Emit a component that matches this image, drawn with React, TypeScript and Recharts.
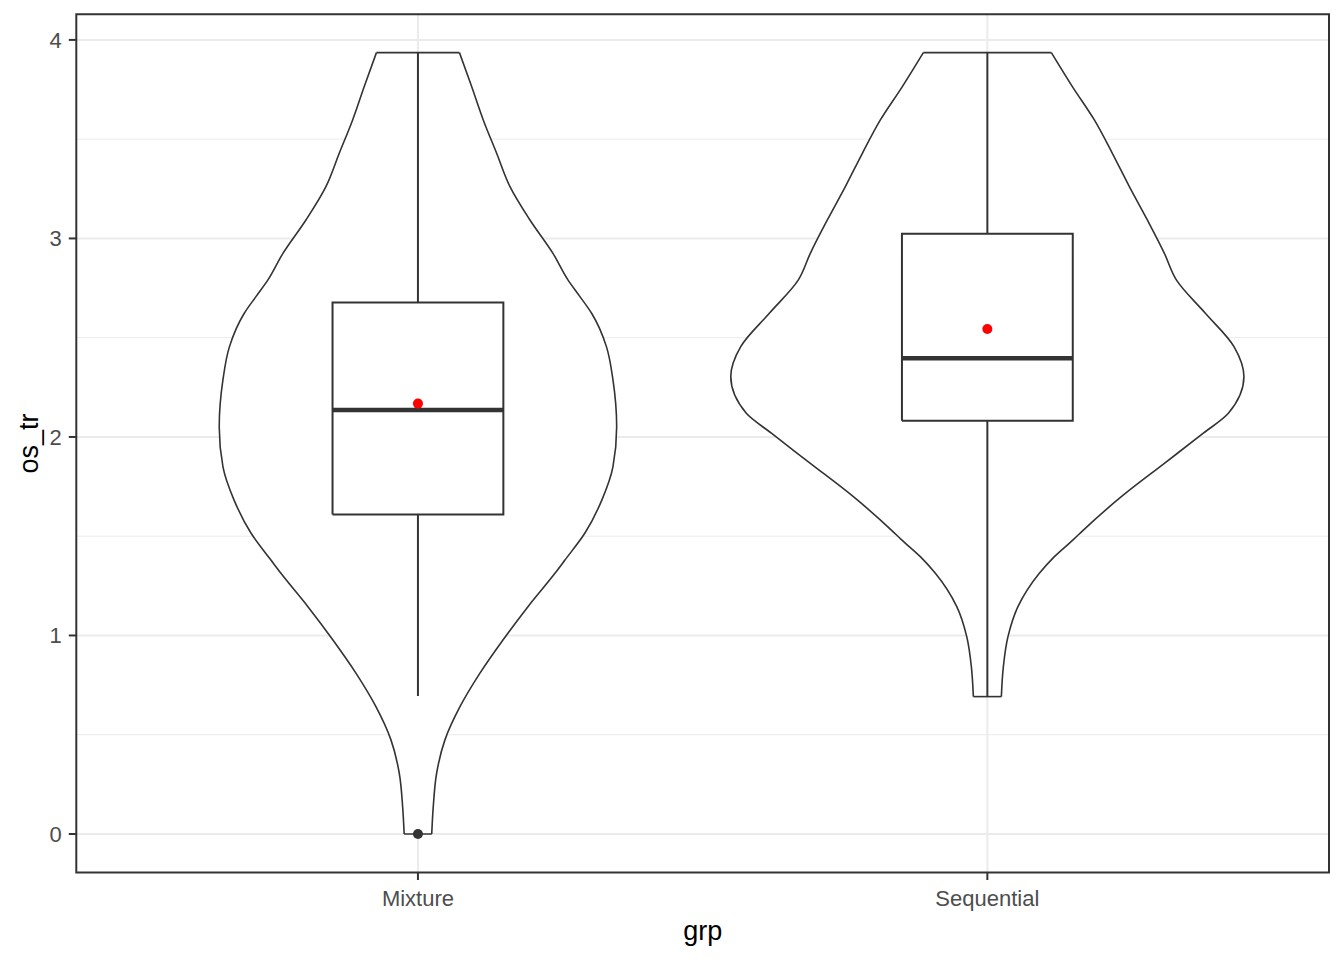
import { ComposedChart, Scatter, XAxis, YAxis, CartesianGrid, ReferenceArea } from 'recharts';

const GROUPS = ['Mixture', 'Sequential'];
const Y_TICKS = [0, 1, 2, 3, 4];
const Y_MINOR = [0.5, 1.5, 2.5, 3.5];

// violin outlines: value on os_tr and half width of the violin at that value (x units)
const MIX_Y = [0, 0.138, 0.306, 0.474, 0.641, 0.81, 0.977, 1.145, 1.313, 1.38, 1.516, 1.683, 1.85, 2.052, 2.287, 2.455, 2.623, 2.707, 2.791, 2.925, 3.093, 3.261, 3.429, 3.597, 3.765, 3.936];
const MIX_HW = [0.0242, 0.0269, 0.0328, 0.0474, 0.0738, 0.1089, 0.1493, 0.1932, 0.2406, 0.2582, 0.2933, 0.3231, 0.3425, 0.349, 0.3425, 0.331, 0.305, 0.2845, 0.2634, 0.2371, 0.1967, 0.1616, 0.1382, 0.1147, 0.0943, 0.0729];
const SEQ_Y = [0.692, 0.843, 0.994, 1.145, 1.313, 1.397, 1.483, 1.531, 1.699, 1.867, 2.019, 2.119, 2.304, 2.455, 2.623, 2.791, 2.925, 3.093, 3.261, 3.429, 3.597, 3.765, 3.936];
const SEQ_HW = [0.0246, 0.0281, 0.0362, 0.0537, 0.0913, 0.1177, 0.151, 0.1686, 0.2353, 0.3109, 0.3793, 0.4233, 0.4506, 0.4331, 0.3829, 0.3319, 0.3109, 0.281, 0.2494, 0.2195, 0.1879, 0.1493, 0.1124];

// boxplot stats per group
const Q1 = [1.609, 2.082];
const MEDIAN = [2.136, 2.396];
const Q3 = [2.677, 3.024];
const WHISKER_LOW = [0.695, 0.692];
const WHISKER_HIGH = [3.936, 3.936];
const MEAN = [2.168, 2.544];
const OUTLIER_GROUP = [1];
const OUTLIER_VALUE = [0];

const BOX_HALF = 0.15;
const INK = '#333333';
const FONT = "'Liberation Sans', Arial, sans-serif";

const violins = [
  { c: 1, ys: MIX_Y, hws: MIX_HW },
  { c: 2, ys: SEQ_Y, hws: SEQ_HW },
].map(({ c, ys, hws }) => {
  const left = ys.map((y, i) => ({ x: c - hws[i], y }));
  const right = ys.map((y, i) => ({ x: c + hws[i], y }));
  const n = ys.length - 1;
  return {
    left,
    right,
    outline: [...left, ...right.slice().reverse(), left[0]],
    top: [left[n], right[n]],
    bottom: [left[0], right[0]],
  };
});

const boxes = GROUPS.map((_, i) => {
  const c = i + 1;
  return {
    rect: [
      { x: c - BOX_HALF, y: Q1[i] },
      { x: c + BOX_HALF, y: Q1[i] },
      { x: c + BOX_HALF, y: Q3[i] },
      { x: c - BOX_HALF, y: Q3[i] },
      { x: c - BOX_HALF, y: Q1[i] },
    ],
    median: [
      { x: c - BOX_HALF, y: MEDIAN[i] },
      { x: c + BOX_HALF, y: MEDIAN[i] },
    ],
    upper: [
      { x: c, y: Q3[i] },
      { x: c, y: WHISKER_HIGH[i] },
    ],
    lower: [
      { x: c, y: WHISKER_LOW[i] },
      { x: c, y: Q1[i] },
    ],
  };
});

const meanPoints = MEAN.map((m, i) => ({ x: i + 1, y: m }));
const outlierPoints = OUTLIER_GROUP.map((g, i) => ({ x: g, y: OUTLIER_VALUE[i] }));

const NoPoint = () => <g />;
const dot = (color: string) => (props: any) => <circle cx={props.cx} cy={props.cy} r={5} fill={color} />;

export default function App() {
  return (
    <div style={{ position: 'absolute', left: 0, top: 0, width: 1344, height: 960, background: '#fff' }}>
      <ComposedChart width={1344} height={960} margin={{ top: 14.3, right: 15, bottom: 0, left: 0 }}>
        <CartesianGrid horizontalValues={Y_MINOR} vertical={false} stroke="#EBEBEB" strokeWidth={1} />
        <CartesianGrid horizontalValues={Y_TICKS} verticalValues={[1, 2]} stroke="#EBEBEB" strokeWidth={2} />
        <XAxis
          type="number"
          dataKey="x"
          domain={[0.4, 2.6]}
          ticks={[1, 2]}
          allowDataOverflow
          tickFormatter={(v) => GROUPS[v - 1]}
          height={87.5}
          axisLine={false}
          tickSize={7.5}
          tickMargin={10.5}
          tickLine={{ stroke: INK, strokeWidth: 2 }}
          tick={{ fill: '#4D4D4D', fontSize: 22, fontFamily: FONT }}
          label={{ value: 'grp', position: 'insideBottom', offset: 20, fill: '#000', fontSize: 27, fontFamily: FONT }}
        />
        <YAxis
          type="number"
          dataKey="y"
          domain={[-0.194, 4.129]}
          ticks={Y_TICKS}
          allowDataOverflow
          width={76.3}
          axisLine={false}
          tickSize={7.5}
          tickMargin={7}
          tickLine={{ stroke: INK, strokeWidth: 2 }}
          tick={{ fill: '#4D4D4D', fontSize: 22, fontFamily: FONT }}
          label={{
            value: 'os_tr',
            angle: -90,
            position: 'insideLeft',
            offset: 28,
            fill: '#000',
            fontSize: 27,
            fontFamily: FONT,
            style: { textAnchor: 'middle' },
          }}
        />

        {violins.map((v, i) => [
          <Scatter key={`vf${i}`} data={v.outline} shape={NoPoint} line={{ fill: '#fff', stroke: 'none' }} isAnimationActive={false} />,
          <Scatter key={`vl${i}`} data={v.left} shape={NoPoint} lineJointType="monotoneY" line={{ stroke: INK, strokeWidth: 1.6, fill: 'none' }} isAnimationActive={false} />,
          <Scatter key={`vr${i}`} data={v.right} shape={NoPoint} lineJointType="monotoneY" line={{ stroke: INK, strokeWidth: 1.6, fill: 'none' }} isAnimationActive={false} />,
          <Scatter key={`vt${i}`} data={v.top} shape={NoPoint} line={{ stroke: INK, strokeWidth: 1.6, fill: 'none' }} isAnimationActive={false} />,
          <Scatter key={`vb${i}`} data={v.bottom} shape={NoPoint} line={{ stroke: INK, strokeWidth: 1.6, fill: 'none' }} isAnimationActive={false} />,
        ])}

        {boxes.map((b, i) => [
          <Scatter key={`wu${i}`} data={b.upper} shape={NoPoint} line={{ stroke: INK, strokeWidth: 2, fill: 'none' }} isAnimationActive={false} />,
          <Scatter key={`wl${i}`} data={b.lower} shape={NoPoint} line={{ stroke: INK, strokeWidth: 2, fill: 'none' }} isAnimationActive={false} />,
          <Scatter key={`bx${i}`} data={b.rect} shape={NoPoint} line={{ stroke: INK, strokeWidth: 2, fill: '#fff' }} isAnimationActive={false} />,
          <Scatter key={`md${i}`} data={b.median} shape={NoPoint} line={{ stroke: INK, strokeWidth: 4.5, fill: 'none' }} isAnimationActive={false} />,
        ])}

        <Scatter data={outlierPoints} shape={dot(INK)} isAnimationActive={false} />
        <Scatter data={meanPoints} shape={dot('#FF0000')} isAnimationActive={false} />

        <ReferenceArea x1={0.4} x2={2.6} y1={-0.194} y2={4.129} fill="none" stroke={INK} strokeWidth={2} ifOverflow="visible" />
      </ComposedChart>
    </div>
  );
}
